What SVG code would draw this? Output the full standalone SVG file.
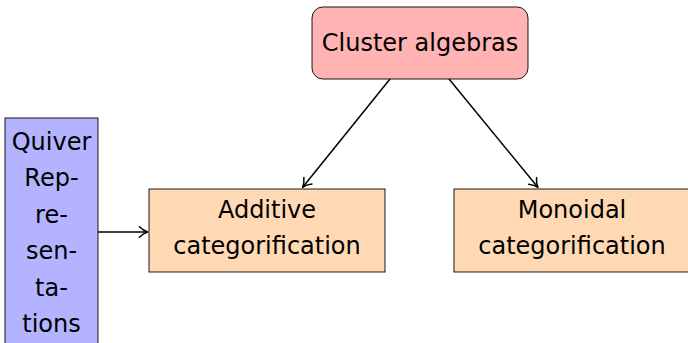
<svg xmlns="http://www.w3.org/2000/svg" width="688" height="343" viewBox="0 0 688 343">
  <style>
    .box { stroke: #000; stroke-width: 0.9; }
    .red { fill: #ffb3b3; }
    .orange { fill: #ffd9b3; }
    .blue { fill: #b3b3ff; }
    .lbl { font-family: "DejaVu Sans", sans-serif; font-size: 24px; fill: #000; text-anchor: middle; }
    .edge { stroke: #000; stroke-width: 1.5; fill: none; marker-end: url(#to); }
  </style>
  <defs>
    <!-- curved open arrowhead, drawn in user units -->
    <marker id="to" viewBox="-10 -6 11 12" refX="0.6" refY="0" markerWidth="11" markerHeight="12" markerUnits="userSpaceOnUse" orient="auto">
      <path d="M -8 -5.2 C -4.8 -2 -1.5 -0.5 0.6 0 C -1.5 0.5 -4.8 2 -8 5.2" fill="none" stroke="#000" stroke-width="1.5" stroke-linecap="round" stroke-linejoin="round"/>
    </marker>
  </defs>

  <g id="cluster">
    <rect class="box red" x="312" y="7" width="216" height="72" rx="11" ry="11"/>
    <text class="lbl" x="420" y="51">Cluster algebras</text>
  </g>

  <g id="quiver">
    <rect class="box blue" x="5" y="118" width="93" height="240"/>
    <text class="lbl" x="51.5" y="150">Quiver</text>
    <text class="lbl" x="51.5" y="186">Rep-</text>
    <text class="lbl" x="51.5" y="223">re-</text>
    <text class="lbl" x="51.5" y="259">sen-</text>
    <text class="lbl" x="51.5" y="296">ta-</text>
    <text class="lbl" x="51.5" y="332">tions</text>
  </g>

  <g id="additive">
    <rect class="box orange" x="149" y="189" width="236" height="83"/>
    <text class="lbl" x="267" y="218">Additive</text>
    <text class="lbl" x="267" y="254">categorification</text>
  </g>

  <g id="monoidal">
    <rect class="box orange" x="454" y="189" width="236" height="83"/>
    <text class="lbl" x="572" y="218">Monoidal</text>
    <text class="lbl" x="572" y="254">categorification</text>
  </g>

  <g id="connectors">
    <line class="edge" x1="390" y1="79" x2="302.5" y2="187.5"/>
    <line class="edge" x1="449" y1="79" x2="538" y2="187.5"/>
    <line class="edge" x1="98" y1="232" x2="148" y2="232"/>
  </g>
</svg>
